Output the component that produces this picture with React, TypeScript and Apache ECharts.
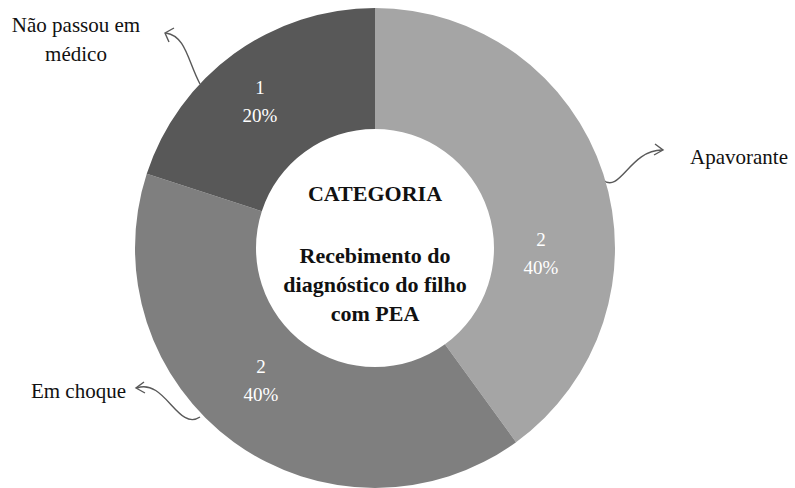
import React, { useEffect, useRef } from "react";
import * as echarts from "echarts";

const categories = ["Apavorante", "Em choque", "Não passou em\nmédico"];
const values = [2, 2, 1];
const colors = ["#a5a5a5", "#7f7f7f", "#585858"];
const centerTitle = "CATEGORIA";
const centerSubtitle = ["Recebimento do", "diagnóstico do filho", "com PEA"];

const SERIF = "Liberation Serif, serif";

// label anchor positions (text placement only)
const innerLabelPos = [
  [541, 253],
  [261, 380],
  [260, 101],
];
const outerLabelPos = [
  { x: 690, y: 157, align: "left" },
  { x: 126, y: 391, align: "right" },
  { x: 76, y: 39, align: "center" },
];

export default function App() {
  const ref = useRef<HTMLDivElement>(null);
  useEffect(() => {
    document.body.style.margin = "0";
    const chart = echarts.init(ref.current!, null, { renderer: "svg" });
    const data = categories.map((name, i) => ({
      name,
      value: values[i],
      itemStyle: { color: colors[i] },
    }));
    const arrowStyle = { stroke: "#595959", lineWidth: 1.4, fill: "none" };
    chart.setOption({
      animation: false,
      backgroundColor: "#ffffff",
      textStyle: { fontFamily: SERIF },
      series: [
        {
          type: "pie",
          center: [375, 248],
          radius: [119, 240],
          startAngle: 90,
          clockwise: true,
          silent: true,
          data,
          itemStyle: { borderWidth: 0 },
          label: {
            show: true,
            position: "inside",
            formatter: "{v|{c}}\n{v|{d}%}",
            rich: {
              v: {
                color: "#ffffff",
                fontFamily: SERIF,
                fontSize: 19,
                lineHeight: 28,
                align: "center",
              },
            },
          },
          labelLine: { show: false },
          labelLayout: (p: any) => ({
            x: innerLabelPos[p.dataIndex][0],
            y: innerLabelPos[p.dataIndex][1],
            align: "center",
            verticalAlign: "middle",
          }),
        },
        {
          type: "pie",
          center: [375, 248],
          radius: [119, 240],
          startAngle: 90,
          clockwise: true,
          silent: true,
          data: categories.map((name, i) => ({ name, value: values[i] })),
          itemStyle: { color: "rgba(0,0,0,0)", borderWidth: 0 },
          label: {
            show: true,
            position: "outside",
            formatter: "{b}",
            color: "#111111",
            fontFamily: SERIF,
            fontSize: 21,
            lineHeight: 29,
            align: "center",
          },
          labelLine: { show: false },
          labelLayout: (p: any) => ({
            x: outerLabelPos[p.dataIndex].x,
            y: outerLabelPos[p.dataIndex].y,
            align: outerLabelPos[p.dataIndex].align,
            verticalAlign: "middle",
          }),
        },
      ],
      graphic: [
        {
          type: "text",
          x: 375,
          y: 193,
          style: {
            text: centerTitle,
            fontFamily: SERIF,
            fontWeight: "bold",
            fontSize: 22,
            fill: "#111111",
            textAlign: "center",
            textVerticalAlign: "middle",
          },
        },
        ...centerSubtitle.map((t, i) => ({
          type: "text",
          x: 375,
          y: 255 + i * 29,
          style: {
            text: t,
            fontFamily: SERIF,
            fontWeight: "bold",
            fontSize: 22,
            fill: "#111111",
            textAlign: "center",
            textVerticalAlign: "middle",
          },
        })),
        // arrows
        {
          type: "bezierCurve",
          shape: { x1: 200, y1: 84, cpx1: 188, cpy1: 62, cpx2: 186, cpy2: 36, x2: 166, y2: 33 },
          style: arrowStyle,
        },
        {
          type: "polyline",
          shape: { points: [[174, 28], [165, 33], [169, 42]] },
          style: arrowStyle,
        },
        {
          type: "bezierCurve",
          shape: { x1: 603, y1: 180, cpx1: 620, cpx2: 630, cpy1: 194, cpy2: 150, x2: 662, y2: 150 },
          style: arrowStyle,
        },
        {
          type: "polyline",
          shape: { points: [[655, 144], [663, 150], [654, 155]] },
          style: arrowStyle,
        },
        {
          type: "bezierCurve",
          shape: { x1: 137, y1: 388, cpx1: 165, cpy1: 378, cpx2: 178, cpy2: 432, x2: 200, y2: 417 },
          style: arrowStyle,
        },
        {
          type: "polyline",
          shape: { points: [[144, 382], [136, 388], [145, 393]] },
          style: arrowStyle,
        },
      ],
    });
    return () => chart.dispose();
  }, []);
  return <div ref={ref} style={{ width: 795, height: 488 }} />;
}
